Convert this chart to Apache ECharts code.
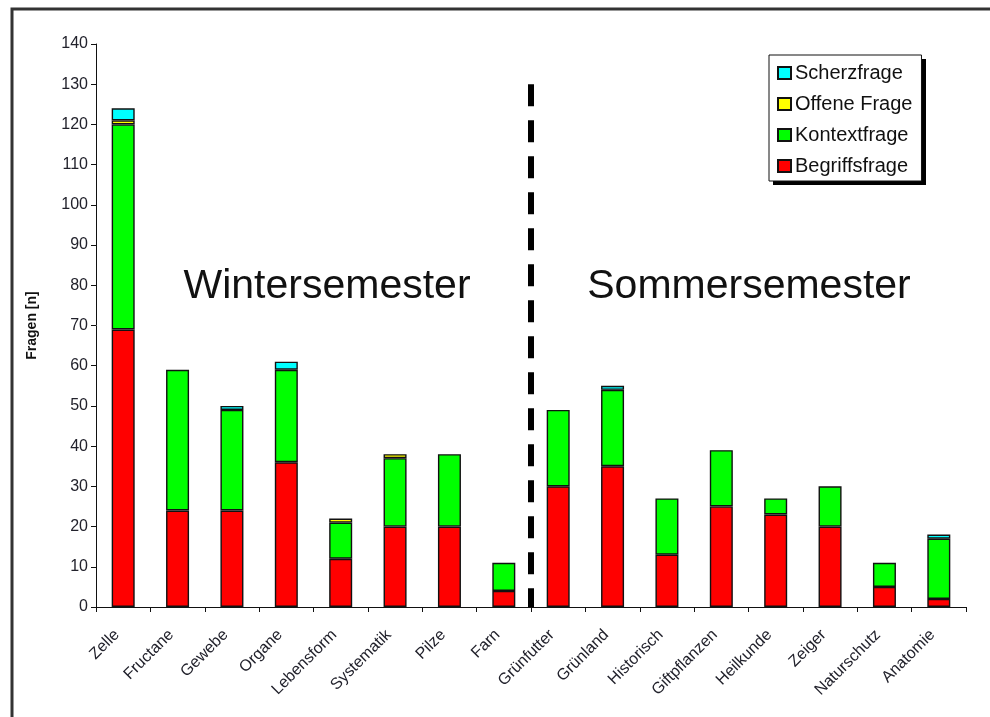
<!DOCTYPE html>
<html>
<head>
<meta charset="utf-8">
<title>Fragen nach Thema</title>
<script src="https://cdn.jsdelivr.net/npm/echarts@6/dist/echarts.min.js"></script>
<style>
  html, body { margin: 0; padding: 0; background: #fff; }
  #chart { width: 990px; height: 717px; }
</style>
</head>
<body>
<div id="chart"></div>
<script>
// Themen (Winter: erste 8, Sommer: restliche 8)
const themen = ['Zelle', 'Fructane', 'Gewebe', 'Organe', 'Lebensform', 'Systematik', 'Pilze', 'Farn',
  'Grünfutter', 'Grünland', 'Historisch', 'Giftpflanzen', 'Heilkunde', 'Zeiger', 'Naturschutz', 'Anatomie'];

// Anzahl Fragen je Fragetyp
const begriffsfrage = [69, 24, 24, 36, 12, 20, 20, 4, 30, 35, 13, 25, 23, 20, 5, 2];
const kontextfrage  = [51, 35, 25, 23, 9, 17, 18, 7, 19, 19, 14, 14, 4, 10, 6, 15];
const offeneFrage   = [1, 0, 0, 0, 1, 1, 0, 0, 0, 0, 0, 0, 0, 0, 0, 0];
const scherzfrage   = [3, 0, 1, 2, 0, 0, 0, 0, 0, 1, 0, 0, 0, 0, 0, 1];

// Y-Achse
const yMin = 0, yMax = 140, yStep = 10;
// Trennlinie zwischen Winter- und Sommersemester
const trennNach = 'Farn';
const trennHoehe = 130;

const chart = echarts.init(document.getElementById('chart'), null, { renderer: 'canvas' });

const FONT = 'Liberation Sans, Arial, sans-serif';
const stroke = '#111';

function serie(name, values, color) {
  return {
    name: name,
    type: 'bar',
    stack: 'fragen',
    barWidth: 23,
    data: values.map(v => (v === 0 ? null : v)),
    itemStyle: { color: color, borderColor: stroke, borderWidth: 1.4 },
    emphasis: { disabled: true }
  };
}

const option = {
  animation: false,
  backgroundColor: '#fff',
  textStyle: { fontFamily: FONT },
  grid: { left: 96, right: 24, top: 44, bottom: 110, containLabel: false },
  legend: {
    data: ['Scherzfrage', 'Offene Frage', 'Kontextfrage', 'Begriffsfrage'],
    orient: 'vertical',
    left: 769,
    top: 55,
    padding: [8, 9, 5, 8],
    itemGap: 11,
    itemWidth: 13,
    itemHeight: 12,
    icon: 'rect',
    backgroundColor: '#fff',
    borderColor: '#111',
    borderWidth: 1,
    z: 10,
    textStyle: { fontFamily: FONT, fontSize: 20, color: '#111', padding: [0, 0, 0, -1] },
    selectedMode: false
  },
  xAxis: {
    type: 'category',
    data: themen,
    boundaryGap: true,
    axisLine: { lineStyle: { color: '#111', width: 1 } },
    axisTick: { show: true, alignWithLabel: false, length: 5, lineStyle: { color: '#111' } },
    axisLabel: {
      rotate: 45,
      interval: 0,
      margin: 19,
      padding: [0, 9, 0, 0],
      fontFamily: FONT,
      fontSize: 16,
      color: '#22222c'
    }
  },
  yAxis: {
    type: 'value',
    min: yMin,
    max: yMax,
    interval: yStep,
    name: 'Fragen [n]',
    nameLocation: 'middle',
    nameGap: 57,
    nameTextStyle: { fontFamily: FONT, fontSize: 14, fontWeight: 'bold', color: '#111' },
    axisLine: { show: true, lineStyle: { color: '#111', width: 1 } },
    axisTick: { show: true, length: 5, lineStyle: { color: '#111' } },
    splitLine: { show: false },
    axisLabel: { fontFamily: FONT, fontSize: 16, color: '#22222c', margin: 8 }
  },
  series: [
    serie('Begriffsfrage', begriffsfrage, '#ff0000'),
    serie('Kontextfrage', kontextfrage, '#00ff00'),
    serie('Offene Frage', offeneFrage, '#ffff00'),
    serie('Scherzfrage', scherzfrage, '#00ffff')
  ]
};

chart.setOption(option);

// Trennlinie, Semestertitel, Rahmen und Legendenschatten
const idx = themen.indexOf(trennNach);
const pA = chart.convertToPixel({ seriesIndex: 0 }, [idx, 0]);
const pB = chart.convertToPixel({ seriesIndex: 0 }, [idx + 1, 0]);
const xTrenn = (pA[0] + pB[0]) / 2;
const yBase = pA[1];
const yTop = chart.convertToPixel({ seriesIndex: 0 }, [idx, trennHoehe])[1];

chart.setOption({
  graphic: [
    {
      type: 'line',
      shape: { x1: xTrenn, y1: yTop, x2: xTrenn, y2: yBase },
      style: { stroke: '#000', lineWidth: 6, lineDash: [22, 14] },
      z: 5
    },
    {
      type: 'text',
      x: 327, y: 287,
      style: { text: 'Wintersemester', font: '41px ' + FONT, fill: '#111', textAlign: 'center', textVerticalAlign: 'middle' },
      z: 5
    },
    {
      type: 'text',
      x: 749, y: 287,
      style: { text: 'Sommersemester', font: '41px ' + FONT, fill: '#111', textAlign: 'center', textVerticalAlign: 'middle' },
      z: 5
    },
    {
      type: 'rect',
      shape: { x: 773, y: 59, width: 153, height: 126 },
      style: { fill: '#000' },
      z: 1
    },
    {
      type: 'polyline',
      shape: { points: [[12, 717], [12, 9], [990, 9]] },
      style: { stroke: '#333', lineWidth: 3, fill: null },
      z: 1
    }
  ]
});
</script>
</body>
</html>
